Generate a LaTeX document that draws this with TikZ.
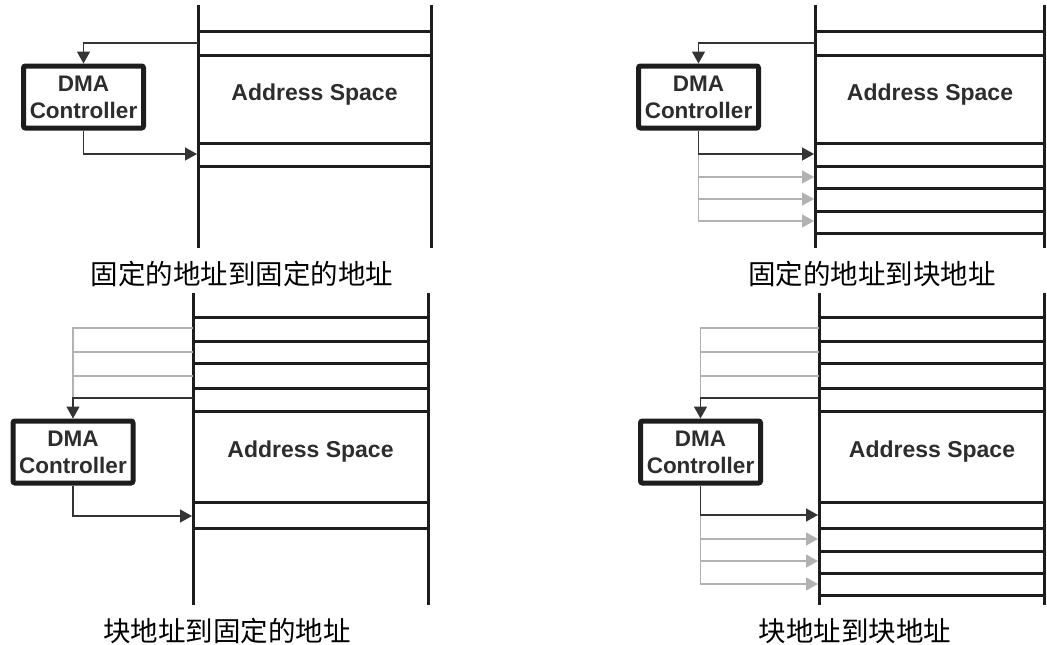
\documentclass[tikz,border=0pt]{standalone}
\usepackage{fontspec}
\setsansfont{Liberation Sans}
\newfontfamily\cjk{Noto Sans CJK SC}
\usetikzlibrary{arrows.meta,positioning}
\definecolor{railblack}{RGB}{30,28,30}
\definecolor{linegray}{RGB}{178,178,178}
\definecolor{textgray}{RGB}{45,45,45}
\tikzset{
  dma/.style   ={rectangle, rounded corners=2pt, draw=railblack, line width=5pt,
                 minimum width=120pt, minimum height=62pt, inner sep=0pt, align=center,
                 text=textgray, font=\sffamily\bfseries\fontsize{22.5}{27}\selectfont},
  space/.style ={font=\sffamily\bfseries\fontsize{23}{26}\selectfont, text=textgray},
  rail/.style  ={line width=3pt, draw=railblack},
  slot/.style  ={line width=3pt, draw=railblack},
  flow/.style  ={-{Triangle[length=12pt,width=13pt]}, line width=1.4pt, draw=railblack!90},
  gflow/.style ={-{Triangle[length=12pt,width=13pt]}, line width=1.4pt, draw=linegray},
  gfeed/.style ={line width=1.4pt, draw=linegray},
  lbl/.style   ={font=\cjk\fontsize{27.5}{29}\selectfont, text=black}
}
\begin{document}
\begin{tikzpicture}[x=1pt, y=-1pt]
\useasboundingbox (0,0) rectangle (1047,645);

% fixed -> fixed
\draw[rail] (198,5) -- (198,248);
\draw[rail] (431,5) -- (431,248);
\foreach \y in {31,55,143,166} \draw[slot] (198,\y) -- (431,\y);
\node[dma] (ca) at (83.5,97) {DMA\\Controller};
\node[space] (sa) at (314.5,95) {Address Space};
\coordinate (ia) at (198,43);
\coordinate (oa) at (197,154);
\draw[flow] (ia) -| (ca.north);
\draw[flow] (ca.south) |- (oa);
\node[lbl] (ta) at (242,274) {固定的地址到固定的地址};

% fixed -> block
\draw[rail] (815,5) -- (815,248);
\draw[rail] (1044.5,5) -- (1044.5,248);
\foreach \y in {31,55,143,166,188,211,233} \draw[slot] (815,\y) -- (1044.5,\y);
\node[dma] (cb) at (698.5,97) {DMA\\Controller};
\node[space] (sb) at (930,95) {Address Space};
\coordinate (ib) at (815,43);
\coordinate (ob1) at (814,154);
\coordinate (ob2) at (814,177);
\coordinate (ob3) at (814,199);
\coordinate (ob4) at (814,221);
\draw[flow] (ib) -| (cb.north);
\draw[gflow] (cb.south) |- (ob4);
\draw[gflow] (cb.south) |- (ob3);
\draw[gflow] (cb.south) |- (ob2);
\draw[flow] (cb.south) |- (ob1);
\node[lbl] (tb) at (872,274) {固定的地址到块地址};

% block -> fixed
\draw[rail] (193,293) -- (193,605);
\draw[rail] (428,293) -- (428,605);
\foreach \y in {317,341,363,388,411,502,528} \draw[slot] (193,\y) -- (428,\y);
\node[dma] (cc) at (73,452) {DMA\\Controller};
\node[space] (sc) at (310.5,452) {Address Space};
\coordinate (ic1) at (193,328);
\coordinate (ic2) at (193,352);
\coordinate (ic3) at (193,376);
\coordinate (ic4) at (193,398);
\coordinate (oc) at (192,516);
\draw[gfeed] (ic1) -| (cc.north);
\draw[gfeed] (ic2) -| (cc.north);
\draw[gfeed] (ic3) -| (cc.north);
\draw[flow] (ic4) -| (cc.north);
\draw[flow] (cc.south) |- (oc);
\node[lbl] (tc) at (227,631) {块地址到固定的地址};

% block -> block
\draw[rail] (819,293) -- (819,605);
\draw[rail] (1044.5,293) -- (1044.5,605);
\foreach \y in {317,341,363,388,411,502,528,551,573,595} \draw[slot] (819,\y) -- (1044.5,\y);
\node[dma] (cd) at (700.5,452) {DMA\\Controller};
\node[space] (sd) at (932,452) {Address Space};
\coordinate (id1) at (819,328);
\coordinate (id2) at (819,352);
\coordinate (id3) at (819,376);
\coordinate (id4) at (819,398);
\coordinate (od1) at (818,515);
\coordinate (od2) at (818,539);
\coordinate (od3) at (818,561);
\coordinate (od4) at (818,584);
\draw[gfeed] (id1) -| (cd.north);
\draw[gfeed] (id2) -| (cd.north);
\draw[gfeed] (id3) -| (cd.north);
\draw[flow] (id4) -| (cd.north);
\draw[gflow] (cd.south) |- (od4);
\draw[gflow] (cd.south) |- (od3);
\draw[gflow] (cd.south) |- (od2);
\draw[flow] (cd.south) |- (od1);
\node[lbl] (td) at (855,631) {块地址到块地址};
\end{tikzpicture}
\end{document}
